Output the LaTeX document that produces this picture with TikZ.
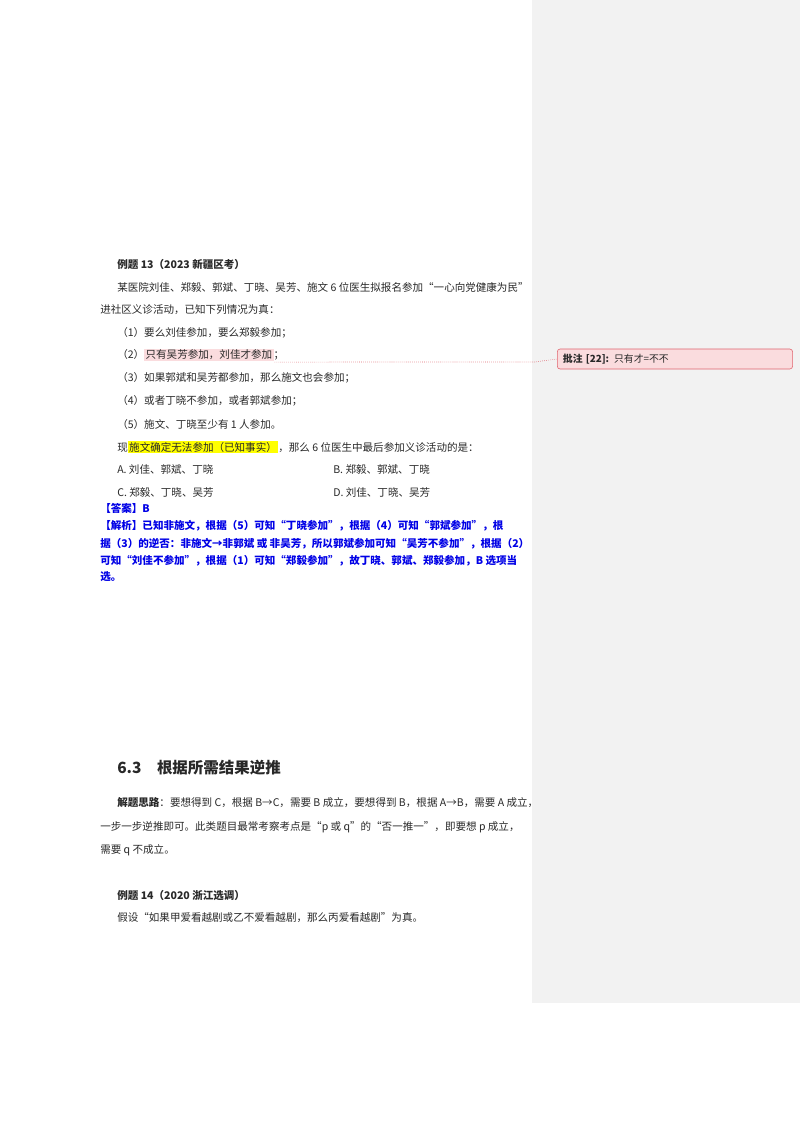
\documentclass[tikz,border=0pt]{standalone}
\usepackage{fontspec}
\setmainfont{Noto Sans CJK SC}
\usepackage{xcolor}
\definecolor{sidegray}{RGB}{242,242,242}
\definecolor{notered}{RGB}{224,100,110}
\definecolor{notepink}{RGB}{250,220,222}
\definecolor{markyellow}{RGB}{255,255,0}
\definecolor{ansblue}{RGB}{0,0,230}
\definecolor{bodytext}{RGB}{40,40,40}
\setlength\fboxsep{1pt}
\tikzset{
  txt/.style={anchor=west, inner sep=0pt, text=bodytext, font=\fontsize{7.5pt}{9pt}\selectfont},
  ttl/.style={txt, font=\fontsize{7.5pt}{9pt}\selectfont\bfseries},
  ans/.style={txt, text=ansblue, font=\fontsize{7.5pt}{9pt}\selectfont\bfseries},
  head/.style={txt, font=\fontsize{11pt}{13pt}\selectfont\bfseries}
}
\begin{document}
\begin{tikzpicture}[x=0.025cm, y=-0.025cm]
\useasboundingbox (0,0) rectangle (800,1132);
\fill[white] (0,0) rectangle (800,1132);
\fill[sidegray] (532,0) rectangle (800,1003);
% comment box
\node[draw=notered, fill=notepink, rounded corners=2pt, anchor=west, text width=5.6cm,
  minimum height=20*0.025cm, inner xsep=4pt, inner ysep=0pt, align=left, text=bodytext,
  font=\fontsize{7pt}{8pt}\selectfont] (note) at (557,359) {\textbf{批注 [22]:} 只有才=不不};
% example 13
\node[ttl] (t13) at (117,264) {例题 13（2023 新疆区考）};
\node[txt] (p1) at (117,287) {某医院刘佳、郑毅、郭斌、丁晓、吴芳、施文 6 位医生拟报名参加“一心向党健康为民”};
\node[txt] (p2) at (100,310) {进社区义诊活动，已知下列情况为真：};
\node[txt] (c1) at (117,333) {（1）要么刘佳参加，要么郑毅参加；};
\node[txt] (c2) at (117,355) {（2）\colorbox{notepink}{只有吴芳参加，刘佳才参加}；};
\node[txt] (c3) at (117,378) {（3）如果郭斌和吴芳都参加，那么施文也会参加；};
\node[txt] (c4) at (117,401) {（4）或者丁晓不参加，或者郭斌参加；};
\node[txt] (c5) at (117,424) {（5）施文、丁晓至少有 1 人参加。};
\node[txt] (q) at (117,447) {现\colorbox{markyellow}{施文确定无法参加（已知事实）}，那么 6 位医生中最后参加义诊活动的是：};
\node[txt] (oa) at (117,469) {A. 刘佳、郭斌、丁晓};
\node[txt] (ob) at (333,469) {B. 郑毅、郭斌、丁晓};
\node[txt] (oc) at (117,492) {C. 郑毅、丁晓、吴芳};
\node[txt] (od) at (333,492) {D. 刘佳、丁晓、吴芳};
\coordinate (mark) at ([xshift=-7pt,yshift=-5pt]c2.east);
\draw[notered, densely dotted, thin] (mark) -- (535,362) -- (note.west);
% answer
\node[ans] (a0) at (100,508) {【答案】B};
\node[ans] (a1) at (100,526) {【解析】已知非施文，根据（5）可知“丁晓参加”，根据（4）可知“郭斌参加”，根};
\node[ans] (a2) at (100,544) {据（3）的逆否：非施文→非郭斌 或 非吴芳，所以郭斌参加可知“吴芳不参加”，根据（2）};
\node[ans] (a3) at (100,561) {可知“刘佳不参加”，根据（1）可知“郑毅参加”，故丁晓、郭斌、郑毅参加，B 选项当};
\node[ans] (a4) at (100,577) {选。};
% section 6.3
\node[head] (h63) at (117,768) {6.3\quad 根据所需结果逆推};
\node[txt] (s1) at (117,803) {\textbf{解题思路}：要想得到 C，根据 B→C，需要 B 成立，要想得到 B，根据 A→B，需要 A 成立，};
\node[txt] (s2) at (100,827) {一步一步逆推即可。此类题目最常考察考点是“p 或 q”的“否一推一”，即要想 p 成立，};
\node[txt] (s3) at (100,850) {需要 q 不成立。};
\node[ttl] (t14) at (117,896) {例题 14（2020 浙江选调）};
\node[txt] (p14) at (117,918) {假设“如果甲爱看越剧或乙不爱看越剧，那么丙爱看越剧”为真。};
\end{tikzpicture}
\end{document}
